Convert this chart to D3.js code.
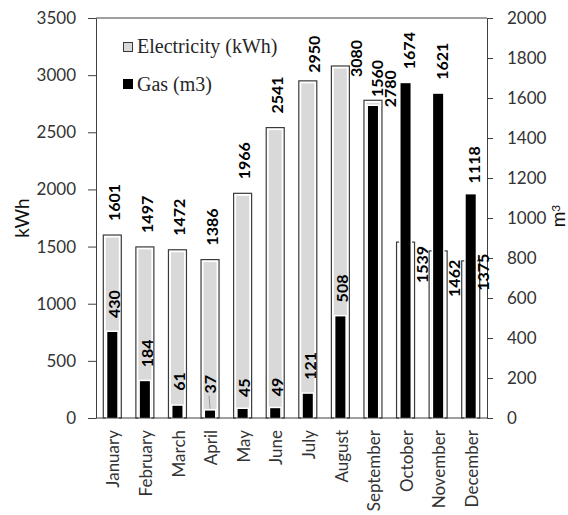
<!DOCTYPE html>
<html>
<head>
<meta charset="utf-8">
<script src="https://cdn.jsdelivr.net/npm/d3@7"></script>
<style>
  html, body { margin: 0; padding: 0; background: #fff; }
  svg { display: block; }
</style>
</head>
<body>
<svg id="chart" width="568" height="515"></svg>
<script>
// ---- data ----
const months = ["January","February","March","April","May","June","July","August","September","October","November","December"];
const electricity = [1601, 1497, 1472, 1386, 1966, 2541, 2950, 3080, 2780, 1539, 1462, 1375];
const gas = [430, 184, 61, 37, 45, 49, 121, 508, 1560, 1674, 1621, 1118];
const leftTicks = [0, 500, 1000, 1500, 2000, 2500, 3000, 3500];
const rightTicks = [0, 200, 400, 600, 800, 1000, 1200, 1400, 1600, 1800, 2000];
const seriesNames = ["Electricity (kWh)", "Gas (m3)"];

// ---- label layout adjustments (dx, dy from default placement) ----
const elecLabelShift = [[0,0],[0,0],[0,0],[0,0],[0,0],[0,0],[4,6],[14,25],[15,21],[15,55],[14,60],[11,44]];
const gasLabelShift  = [[0,0],[0,0],[0,-1],[-2,-3],[0,2],[0,2],[0,0],[0,0],[2,5],[2,0],[2,0],[2,3]];

const svg = d3.select("#chart");
const L = 96, R = 487, T = 18, B = 418;
const axisColor = "#404040";
const textColor = "#333";
const sans = "Lato, 'Open Sans', sans-serif";

const x = d3.scaleBand().domain(months).range([L, R]).padding(0);
const yL = d3.scaleLinear().domain([0, 3500]).range([B, T]);
const yR = d3.scaleLinear().domain([0, 2000]).range([B, T]);

const elecW = 18, gasW = 10;
const cx = m => x(m) + x.bandwidth() / 2;

// top frame line
svg.append("line").attr("x1", L).attr("x2", R).attr("y1", T).attr("y2", T)
  .attr("stroke", axisColor).attr("stroke-width", 1);

// electricity bars
const eg = svg.append("g");
months.forEach((m, i) => {
  const top = yL(electricity[i]);
  eg.append("rect")
    .attr("x", cx(m) - elecW / 2).attr("y", top)
    .attr("width", elecW).attr("height", B - top)
    .attr("fill", "#fff").attr("stroke", "#3a3a3a").attr("stroke-width", 1.2);
  eg.append("rect")
    .attr("x", cx(m) - elecW / 2 + 2.5).attr("y", top + 2.5)
    .attr("width", elecW - 5).attr("height", Math.max(0, B - top - 2.5))
    .attr("fill", "#d9d9d9");
});

// gas bars
const gg = svg.append("g");
months.forEach((m, i) => {
  const top = yR(gas[i]);
  gg.append("rect")
    .attr("x", cx(m) - gasW / 2).attr("y", top)
    .attr("width", gasW).attr("height", B - top)
    .attr("fill", "#000").attr("stroke", "#fff").attr("stroke-width", 3)
    .attr("paint-order", "stroke");
});

// axes
const fmt = d3.format("d");
const axL = svg.append("g").attr("transform", `translate(${L},0)`)
  .call(d3.axisLeft(yL).tickValues(leftTicks).tickFormat(fmt).tickSize(8).tickSizeOuter(0).tickPadding(12));
const axR = svg.append("g").attr("transform", `translate(${R},0)`)
  .call(d3.axisRight(yR).tickValues(rightTicks).tickFormat(fmt).tickSize(6).tickSizeOuter(0).tickPadding(14));
[axL, axR].forEach(a => {
  a.select(".domain").attr("stroke", axisColor);
  a.selectAll(".tick line").attr("stroke", axisColor);
  a.selectAll("text").attr("font-family", sans).attr("font-size", 17).attr("fill", textColor);
});
// x axis line
svg.append("line").attr("x1", L).attr("x2", R).attr("y1", B).attr("y2", B)
  .attr("stroke", axisColor).attr("stroke-width", 1);

// month labels
svg.append("g").selectAll("g").data(months).join("g")
  .attr("transform", d => `translate(${cx(d) + 1},430)`)
  .append("text")
  .attr("transform", "rotate(-90)")
  .attr("text-anchor", "end").attr("dy", "0.36em")
  .attr("font-family", sans).attr("font-size", 17).attr("fill", textColor)
  .text(d => d);

// axis titles
svg.append("g").attr("transform", "translate(22,218)")
  .append("text").attr("transform", "rotate(-90)")
  .attr("text-anchor", "middle").attr("dy", "0.36em")
  .attr("font-family", sans).attr("font-size", 19).attr("fill", "#111")
  .text("kWh");
const rt = svg.append("g").attr("transform", "translate(565,216)")
  .append("text").attr("transform", "rotate(-90)")
  .attr("text-anchor", "middle")
  .attr("font-family", sans).attr("font-size", 19).attr("fill", "#111");
rt.append("tspan").text("m");
rt.append("tspan").attr("dy", "-0.45em").attr("font-size", 12).text("3");

// value labels
function valueLabel(px, py, v) {
  svg.append("g").attr("transform", `translate(${px},${py})`)
    .append("text")
    .attr("transform", "rotate(-90)")
    .attr("text-anchor", "start")
    .attr("dy", "0.36em")
    .attr("font-family", sans).attr("font-size", 16)
    .attr("font-weight", "bold").attr("fill", "#000")
    .text(v);
}
months.forEach((m, i) => {
  const [dx, dy] = elecLabelShift[i];
  valueLabel(cx(m) + 2 + dx, yL(electricity[i]) - 14 + dy, electricity[i]);
});
months.forEach((m, i) => {
  const [dx, dy] = gasLabelShift[i];
  valueLabel(cx(m) + 2 + dx, yR(gas[i]) - 14 + dy, gas[i]);
});
// leader line for April gas label
svg.append("line")
  .attr("x1", cx("April") - 1).attr("x2", cx("April"))
  .attr("y1", yR(gas[3]) - 15).attr("y2", yR(gas[3]) - 2)
  .attr("stroke", "#999").attr("stroke-width", 1);

// legend
const lg = svg.append("g");
lg.append("rect").attr("x", 123.5).attr("y", 42.5).attr("width", 9).attr("height", 9)
  .attr("fill", "#d9d9d9").attr("stroke", "#3a3a3a").attr("stroke-width", 1);
lg.append("rect").attr("x", 123).attr("y", 79).attr("width", 10).attr("height", 10)
  .attr("fill", "#000");
lg.selectAll("text").data(seriesNames).join("text")
  .attr("x", 137).attr("y", (d, i) => i === 0 ? 53 : 91)
  .attr("font-family", "'Liberation Serif', 'Times New Roman', serif")
  .attr("font-size", 20).attr("fill", "#262626")
  .text(d => d);
</script>
</body>
</html>
